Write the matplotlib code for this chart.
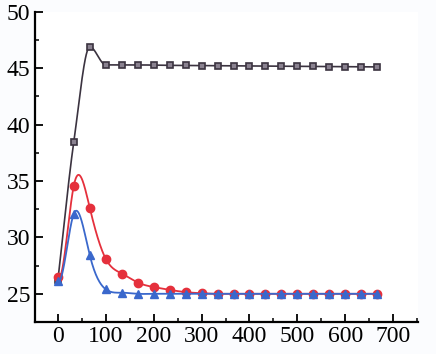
import numpy as np
import matplotlib.pyplot as plt
from matplotlib.ticker import MultipleLocator

# data
x = [0, 33.3, 66.7, 100, 133.3, 166.7, 200, 233.3, 266.7, 300, 333.3, 366.7,
     400, 433.3, 466.7, 500, 533.3, 566.7, 600, 633.3, 666.7]
black = [26.2, 38.5, 46.9, 45.3, 45.3, 45.3, 45.28, 45.26, 45.25, 45.24, 45.22, 45.21,
         45.2, 45.19, 45.18, 45.17, 45.16, 45.15, 45.14, 45.13, 45.12]
red = [26.5, 34.6, 32.6, 28.1, 26.8, 26.0, 25.6, 25.35, 25.15, 25.05, 25.0, 25.0,
       25.0, 25.0, 25.0, 25.0, 25.0, 25.0, 25.0, 25.0, 25.0]
blue = [26.1, 32.1, 28.4, 25.4, 25.1, 25.0, 25.0, 25.0, 25.0, 25.0, 25.0, 25.0,
        25.0, 25.0, 25.0, 25.0, 25.0, 25.0, 25.0, 25.0, 25.0]


def hermite(xs, ys, m, n=700):
    xx = np.linspace(xs[0], xs[-1], n)
    j = np.clip(np.searchsorted(xs, xx) - 1, 0, len(xs) - 2)
    h = xs[j + 1] - xs[j]
    t = (xx - xs[j]) / h
    h00 = 2 * t**3 - 3 * t**2 + 1
    h10 = t**3 - 2 * t**2 + t
    h01 = -2 * t**3 + 3 * t**2
    h11 = t**3 - t**2
    return xx, h00 * ys[j] + h10 * h * m[j] + h01 * ys[j + 1] + h11 * h * m[j + 1]


def spline(xs, ys):
    # natural cubic spline, only for drawing the smooth line
    xs = np.asarray(xs, float)
    ys = np.asarray(ys, float)
    k = len(xs)
    h = np.diff(xs)
    A = np.zeros((k, k))
    b = np.zeros(k)
    A[0, 0] = 2 * h[0]
    A[0, 1] = h[0]
    A[-1, -1] = 2 * h[-1]
    A[-1, -2] = h[-1]
    d = np.diff(ys) / h
    b[0] = 3 * d[0]
    b[-1] = 3 * d[-1]
    for i in range(1, k - 1):
        A[i, i - 1] = h[i]
        A[i, i] = 2 * (h[i - 1] + h[i])
        A[i, i + 1] = h[i - 1]
        b[i] = 3 * (h[i] * d[i - 1] + h[i - 1] * d[i])
    m = np.linalg.solve(A, b)
    return hermite(xs, ys, m)


def pchip(xs, ys):
    # monotone cubic, no overshoot
    xs = np.asarray(xs, float)
    ys = np.asarray(ys, float)
    d = np.diff(ys) / np.diff(xs)
    m = np.zeros(len(xs))
    m[0], m[-1] = d[0], d[-1]
    for i in range(1, len(xs) - 1):
        if d[i - 1] * d[i] > 0:
            m[i] = 2 / (1 / d[i - 1] + 1 / d[i])
    return hermite(xs, ys, m)


plt.rcParams['font.family'] = 'Liberation Serif'

fig = plt.figure(figsize=(4.36, 3.54), dpi=100)
ax = fig.add_axes([0.080, 0.0904, 0.879, 0.876])

c_black = '#3b3340'
c_red = '#e5303c'
c_blue = '#3a68cc'

xx, yy = pchip(x, black)
ax.plot(xx, yy, color=c_black, lw=1.2)
ax.plot(x, black, 's', ms=5, mfc='#8a8290', mec=c_black, mew=1.2)

xx, yy = spline(x, red)
ax.plot(xx, yy, color=c_red, lw=1.3)
ax.plot(x, red, 'o', ms=6, color=c_red)

xx, yy = spline(x, blue)
ax.plot(xx, yy, color=c_blue, lw=1.3)
ax.plot(x, blue, '^', ms=6, color=c_blue)

ax.set_xlim(-48, 752)
ax.set_ylim(22.5, 50)
ax.set_xticks([0, 100, 200, 300, 400, 500, 600, 700])
ax.set_yticks([25, 30, 35, 40, 45, 50])
ax.xaxis.set_minor_locator(MultipleLocator(50))
ax.yaxis.set_minor_locator(MultipleLocator(2.5))
ax.tick_params(which='major', direction='in', length=6, width=1.3, labelsize=17)
ax.tick_params(which='minor', direction='in', length=3, width=1.1)
ax.tick_params(axis='x', pad=3)
ax.spines['top'].set_visible(False)
ax.spines['right'].set_visible(False)
ax.spines['left'].set_linewidth(1.6)
ax.spines['bottom'].set_linewidth(1.6)

fig.savefig('out.png', dpi=100, facecolor='#fbfcfe')
